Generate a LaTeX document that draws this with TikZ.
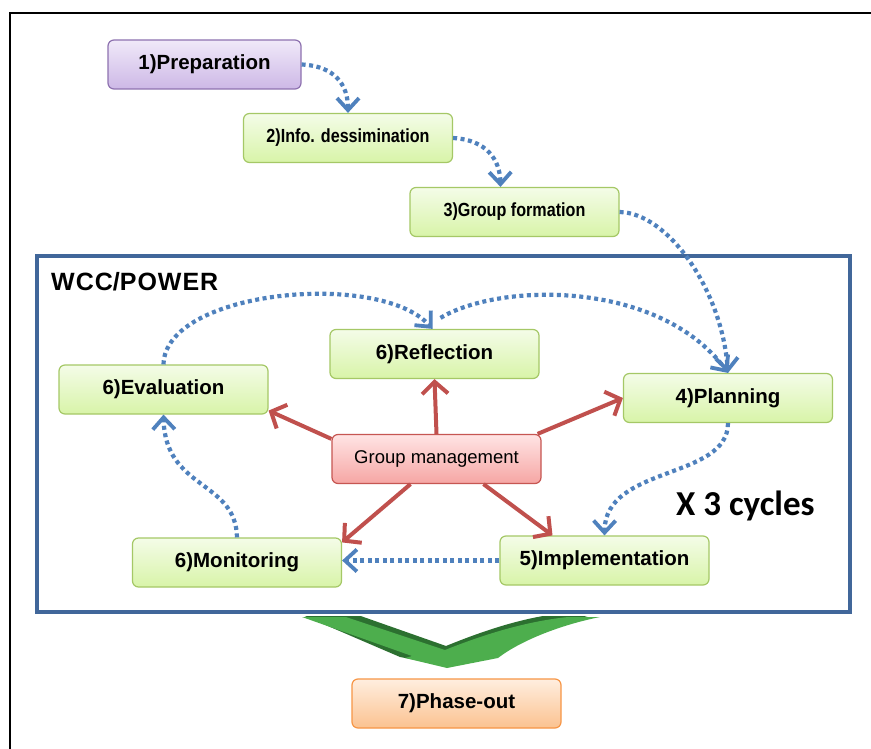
\documentclass[tikz,border=0pt]{standalone}
\usepackage{fontspec}
\setmainfont{Liberation Sans}
\newfontfamily\narrowfont[FakeStretch=0.85]{Liberation Sans}
\newfontfamily\calfont{Carlito}
\usetikzlibrary{arrows.meta}

\definecolor{greentop}{HTML}{F4FCE8}
\definecolor{greenbot}{HTML}{D8F4A8}
\definecolor{greenline}{HTML}{A5C866}
\definecolor{purpletop}{HTML}{F0E9F9}
\definecolor{purplebot}{HTML}{CDB8E6}
\definecolor{purpleline}{HTML}{8E72B0}
\definecolor{pinktop}{HTML}{FFE4E4}
\definecolor{pinkbot}{HTML}{F6A6A4}
\definecolor{pinkline}{HTML}{C65652}
\definecolor{orangetop}{HTML}{FFEEDF}
\definecolor{orangebot}{HTML}{FBC290}
\definecolor{orangeline}{HTML}{F79646}
\definecolor{flowblue}{HTML}{4F81BD}
\definecolor{framblue}{HTML}{41679A}
\definecolor{gmred}{HTML}{C0504D}
\definecolor{arrowgreen}{HTML}{4DAE4D}
\definecolor{arrowdark}{HTML}{2C7030}

\tikzset{
  box/.style={rectangle, rounded corners=6pt, draw, line width=1.2pt,
    minimum width=209pt, minimum height=49pt, inner sep=0pt,
    font=\bfseries\fontsize{20.5}{23}\selectfont},
  greenbox/.style={box, draw=greenline, top color=greentop, bottom color=greenbot},
  purplebox/.style={box, draw=purpleline, top color=purpletop, bottom color=purplebot},
  pinkbox/.style={box, draw=pinkline, top color=pinktop, bottom color=pinkbot,
    font=\fontsize{18.5}{21}\selectfont},
  orangebox/.style={box, draw=orangeline, top color=orangetop, bottom color=orangebot},
  narrowlabel/.style={font=\narrowfont\bfseries\fontsize{19}{22}\selectfont},
  flow/.style={draw=flowblue, line width=4.2pt, dash pattern=on 4pt off 3.5pt,
    -{Straight Barb[length=12pt,width=22pt,line width=3.8pt]}},
  gmarrow/.style={draw=gmred, line width=4pt,
    -{Straight Barb[length=12pt,width=26pt,line width=4pt]}},
}

\begin{document}
\begin{tikzpicture}[x=1pt,y=-1pt]
\useasboundingbox (0,0) rectangle (871,749);
\fill[white] (0,0) rectangle (871,749);

% outer page frame (open to the right and bottom)
\draw[line width=2pt] (10,749) -- (10,13) -- (871,13);

% WCC/POWER container
\node[draw=framblue, line width=3.5pt, minimum width=813pt, minimum height=356pt,
      inner sep=0pt] (wcc) at (443.5,434) {};
\node[anchor=base west, inner sep=0pt, font=\bfseries\fontsize{25}{28}\selectfont]
      (wcclabel) at (51,290) {W\kern1pt C\kern1pt C/P\kern1pt O\kern1pt W\kern1pt E\kern1pt R};

% green phase-out arrow below the container
\begin{scope}
  \clip (290,616) rectangle (610,672);
  \fill[arrowdark] (300,614) -- (355,614) -- (446,646)
        .. controls (490,628) and (530,616) .. (566,613) -- (600,613)
        .. controls (560,622) and (520,638) .. (498,655)
        -- (447,666) -- (400,657) -- cycle;
  \fill[arrowgreen] (302,617) -- (346,617) -- (445,650)
        .. controls (490,632) and (530,621) .. (568,617) -- (600,617)
        .. controls (560,625) and (520,641) .. (498,658)
        -- (447,668) -- (405,658) -- (412,656) -- cycle;
\end{scope}

% process boxes
\node[purplebox, minimum width=193pt] (prep) at (204.5,64.5) {1)Preparation};
\node[greenbox, narrowlabel] (info) at (348,138) {2)Info. dessimination};
\node[greenbox, narrowlabel] (grp) at (514.5,212) {3)Group formation};

\node[greenbox] (eval) at (163.5,389.5) {6)Evaluation};
\node[greenbox] (refl) at (434.5,354) {6)Reflection};
\node[pinkbox]  (gm)   at (436.5,459) {Group management};
\node[greenbox] (plan) at (728,398) {4)Planning};
\node[greenbox] (impl) at (604.5,560.5) {5)Implementation};
\node[greenbox] (mon)  at (237,562.5) {6)Monitoring};
\node[orangebox] (phase) at (456.5,703.5) {7)Phase-out};

\node[anchor=base west, inner sep=0pt, font=\calfont\bfseries\fontsize{35}{38}\selectfont]
      (cycles) at (676,515) {X 3 cycles};

% start-up sequence
\draw[flow] (prep.east) .. controls (335,66) and (348,85) .. (info.north);
\draw[flow] (info.east) .. controls (487,140) and (500,160) .. ([xshift=-14pt]grp.north);
\draw[flow] (grp.east) .. controls (668,213) and (722,290) .. (plan.north);

% cycle
\coordinate (rtop) at ([xshift=6pt,yshift=11pt]refl.north);
\draw[flow] (eval.north) .. controls (165,290) and (380,270) .. ([xshift=-2pt]refl.north);
\draw[flow] (rtop) .. controls (500,282) and (660,280) .. (plan.north);
\draw[flow] (plan.south) .. controls (728,480) and (605,465) .. (impl.north);
\draw[flow] (impl.west) -- (impl.west -| mon.east);
\draw[flow] (mon.north) .. controls (236,480) and (165,490) .. (eval.south);

% group management links
\draw[gmarrow] (gm.north) -- (refl.south);
\draw[gmarrow] ([yshift=-5pt]gm.north west) -- ([yshift=4pt]eval.south east);
\draw[gmarrow] ([xshift=-4pt]gm.north east) -- (plan.west);
\draw[gmarrow] ([xshift=-26pt]gm.south) -- ([yshift=-5pt]mon.north east);
\draw[gmarrow] ([xshift=47pt]gm.south) -- ([xshift=-52pt]impl.north);
\end{tikzpicture}
\end{document}
